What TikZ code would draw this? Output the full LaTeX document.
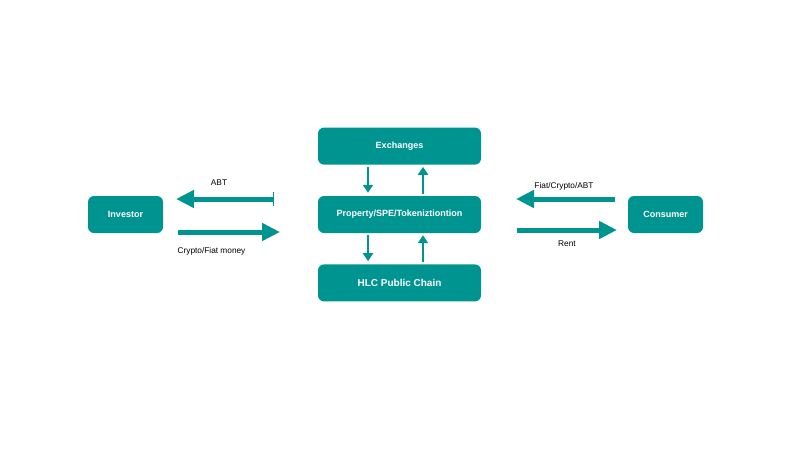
\documentclass[tikz,border=0pt]{standalone}
\usepackage{fontspec}
\setmainfont{Liberation Sans}
\usetikzlibrary{positioning,arrows.meta}
\definecolor{teal}{RGB}{0,148,144}

\begin{document}
\begin{tikzpicture}[
    x=1pt, y=-1pt,
    box/.style={fill=teal, rounded corners=6pt, text=white, font=\bfseries\fontsize{9}{10}\selectfont, inner sep=0pt},
    flow/.style={teal, line width=5pt, -{Triangle[length=18pt, width=17pt]}},
    link/.style={teal, line width=2pt, -{Triangle[length=8pt, width=10pt]}},
    lbl/.style={font=\fontsize{8.3}{9}\selectfont, text=black}
]
    \useasboundingbox (0,0) rectangle (800,450);

    \node[box, minimum width=163pt, minimum height=37pt] (prop) at (399.5,214.5) {Property/SPE/Tokeniztiontion};
    \node[box, minimum width=163pt, minimum height=37pt, above=31pt of prop] (exch) {Exchanges};
    \node[box, minimum width=163pt, minimum height=37pt, below=31pt of prop, font=\bfseries\fontsize{10}{11}\selectfont] (hlc) {HLC Public Chain};
    \node[box, minimum width=75pt, minimum height=37pt] (inv) at (125.5,214.5) {Investor};
    \node[box, minimum width=75pt, minimum height=37pt] (cons) at (665.5,214.5) {Consumer};

    % investor side
    \coordinate (abtS) at (274,199);
    \coordinate (abtE) at (176,199);
    \coordinate (cfS) at (178,232);
    \coordinate (cfE) at (280,232);
    \draw[flow, {Bar[width=14pt, line width=1pt]}-{Triangle[length=18pt, width=17pt]}] (abtS) -- (abtE);
    \draw[flow] (cfS) -- (cfE);
    \node[lbl] (abt) at (219,183) {ABT};
    \node[lbl] (cf) at (211.5,251) {Crypto/Fiat money};

    % consumer side
    \coordinate (fcaS) at (615,199);
    \coordinate (fcaE) at (516,199);
    \coordinate (rentS) at (517,230);
    \coordinate (rentE) at (617,230);
    \draw[flow] (fcaS) -- (fcaE);
    \draw[flow] (rentS) -- (rentE);
    \node[lbl] (fca) at (564,186) {Fiat/Crypto/ABT};
    \node[lbl] (rent) at (567,244) {Rent};

    % up and down
    \draw[link] ([xshift=-31.5pt, yshift=-2pt]exch.south) -- ([xshift=-31.5pt, yshift=3pt]prop.north);
    \draw[link] ([xshift=23.5pt, yshift=2pt]prop.north) -- ([xshift=23.5pt, yshift=-2pt]exch.south);
    \draw[link] ([xshift=-31.5pt, yshift=-2pt]prop.south) -- ([xshift=-31.5pt, yshift=3pt]hlc.north);
    \draw[link] ([xshift=23.5pt, yshift=2pt]hlc.north) -- ([xshift=23.5pt, yshift=-2pt]prop.south);
\end{tikzpicture}
\end{document}
